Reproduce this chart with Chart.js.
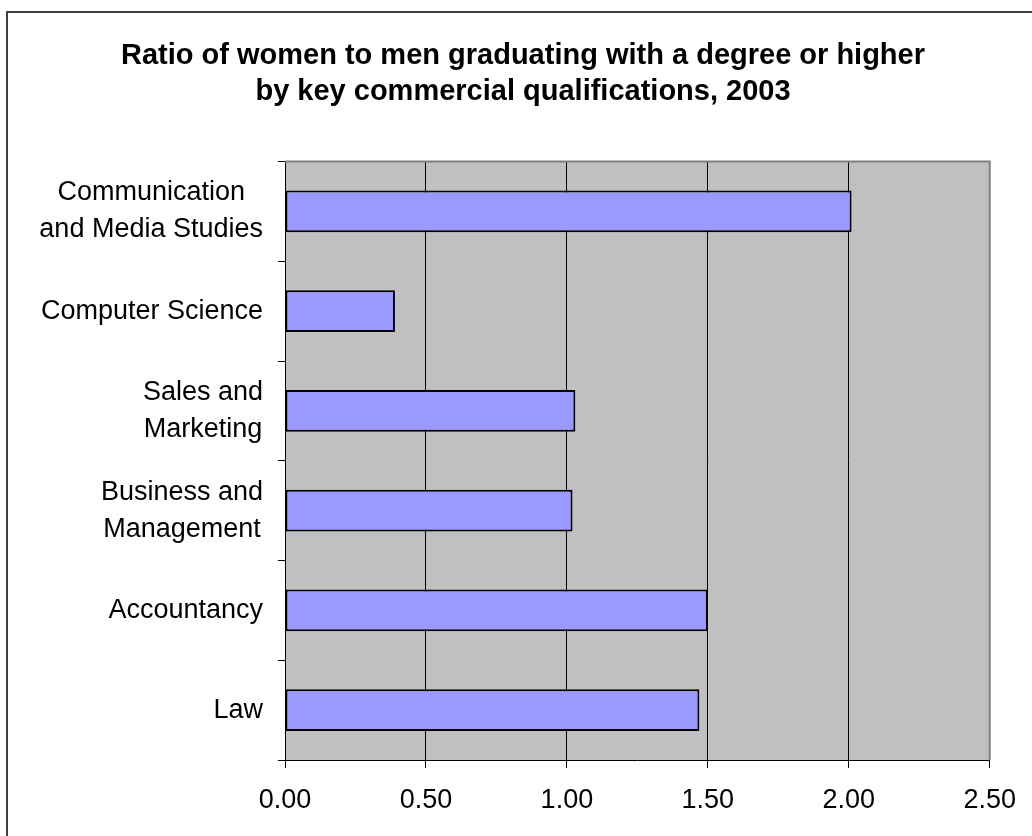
<!DOCTYPE html>
<html>
<head>
<meta charset="utf-8">
<script src="https://cdn.jsdelivr.net/npm/chart.js@4/dist/chart.umd.min.js"></script>
<style>
  html, body { margin: 0; padding: 0; background: #fff; }
  canvas { display: block; }
</style>
</head>
<body>
<canvas id="ratioChart" width="1032" height="836"></canvas>
<script>
  const categories = [
    ['Communication', 'and Media Studies'],
    'Computer Science',
    ['Sales and', 'Marketing'],
    ['Business and', 'Management'],
    'Accountancy',
    'Law'
  ];
  const ratios = [2.01, 0.39, 1.03, 1.02, 1.50, 1.47];
  const titleLines = [
    'Ratio of women to men graduating with a degree or higher',
    'by key commercial qualifications, 2003'
  ];

  const FONT = '"Liberation Sans", Arial, sans-serif';

  // outer frame, grey plot background and the plot's top/right edge
  const chartDecor = {
    id: 'chartDecor',
    beforeDraw(chart) {
      const { ctx, chartArea: a } = chart;
      ctx.save();
      ctx.fillStyle = '#fff';
      ctx.fillRect(0, 0, chart.width, chart.height);
      ctx.strokeStyle = '#404040';
      ctx.lineWidth = 2;
      ctx.strokeRect(7, 12, chart.width + 20, chart.height + 20);
      ctx.fillStyle = '#C0C0C0';
      ctx.fillRect(a.left, a.top, a.right - a.left, a.bottom - a.top);
      ctx.restore();
    },
    beforeDatasetsDraw(chart) {
      const { ctx, chartArea: a } = chart;
      ctx.save();
      ctx.strokeStyle = '#808080';
      ctx.lineWidth = 2;
      ctx.beginPath();
      ctx.moveTo(a.left, a.top);
      ctx.lineTo(a.right, a.top);
      ctx.lineTo(a.right, a.bottom);
      ctx.stroke();
      ctx.restore();
    },
    // category labels: block right-aligned to the axis, lines centred inside the block
    afterDraw(chart) {
      const { ctx } = chart;
      const y = chart.scales.y;
      const right = y.right - 7 - 15;
      ctx.save();
      ctx.font = '27px ' + FONT;
      ctx.fillStyle = '#000';
      ctx.textAlign = 'center';
      ctx.textBaseline = 'middle';
      chart.data.labels.forEach((lab, i) => {
        const lines = [].concat(lab);
        const w = Math.max(...lines.map(l => ctx.measureText(l).width));
        const cx = right - w / 2;
        const cy = y.getPixelForTick(i);
        lines.forEach((l, j) => ctx.fillText(l, cx, cy + (j - (lines.length - 1) / 2) * 37));
      });
      ctx.restore();
    }
  };

  new Chart(document.getElementById('ratioChart'), {
    type: 'bar',
    data: {
      labels: categories,
      datasets: [{
        data: ratios,
        backgroundColor: '#9999FF',
        borderColor: '#000',
        borderWidth: 2,
        borderSkipped: false,
        barPercentage: 0.42,
        categoryPercentage: 1
      }]
    },
    options: {
      indexAxis: 'y',
      responsive: false,
      animation: false,
      layout: { padding: { left: 55, right: 41, top: 0, bottom: 0 } },
      plugins: {
        legend: { display: false },
        tooltip: { enabled: false },
        title: {
          display: true,
          text: titleLines,
          color: '#000',
          font: { family: FONT, size: 29, weight: 'bold', lineHeight: 1.25 },
          padding: { top: 38, bottom: 51 }
        }
      },
      scales: {
        x: {
          min: 0,
          max: 2.5,
          ticks: {
            stepSize: 0.5,
            color: '#000',
            padding: 16,
            font: { family: FONT, size: 27 },
            callback: v => v.toFixed(2)
          },
          grid: {
            color: c => (c.tick && c.tick.value === 2.5) ? '#808080' : '#000',
            lineWidth: 1,
            tickColor: '#000',
            tickLength: 8
          },
          border: { color: '#000', width: 1 },
          afterFit(scale) { scale.height = 76; }
        },
        y: {
          ticks: { display: false },
          grid: {
            drawOnChartArea: false,
            tickColor: '#000',
            tickLength: 7
          },
          border: { color: '#000', width: 1 },
          afterFit(scale) { scale.width = 230; }
        }
      }
    },
    plugins: [chartDecor]
  });
</script>
</body>
</html>
